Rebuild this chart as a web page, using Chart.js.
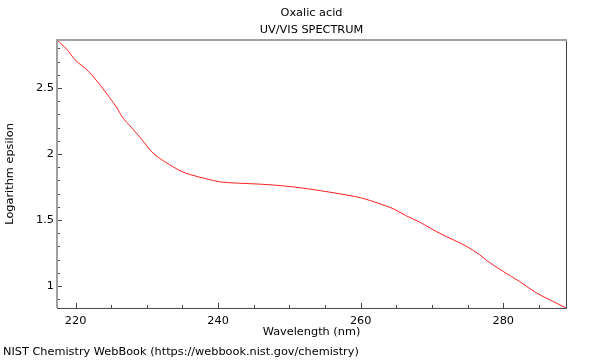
<!DOCTYPE html>
<html>
<head>
<meta charset="utf-8">
<script src="https://cdn.jsdelivr.net/npm/chart.js@4/dist/chart.umd.min.js"></script>
<style>
  html, body { margin: 0; padding: 0; background: #fff; }
  #wrap { width: 600px; height: 360px; }
</style>
</head>
<body>
<div id="wrap"><canvas id="spec"></canvas></div>
<script>
// ---- data ----
const wavelengths = [217.4, 218.8, 219.9, 221.8, 223.4, 224.8, 225.8, 226.5, 227.9, 229.3,
                     230.7, 232.5, 235.1, 236.1, 238.4, 240.3, 243.0, 245.9, 250.1, 254.3,
                     258.5, 260.0, 262.7, 264.6, 266.4, 268.3, 270.6, 273.0, 274.9, 276.7,
                     277.7, 280.0, 282.3, 284.7, 287.0, 288.8];
const logEpsilon  = [2.864, 2.791, 2.715, 2.627, 2.525, 2.425, 2.349, 2.285, 2.197, 2.109,
                     2.015, 1.942, 1.862, 1.843, 1.811, 1.788, 1.778, 1.771, 1.753, 1.722,
                     1.684, 1.668, 1.622, 1.584, 1.531, 1.483, 1.412, 1.349, 1.298, 1.235,
                     1.192, 1.109, 1.033, 0.945, 0.882, 0.833];
const xTickLabels = [220, 240, 260, 280];
const yTickLabels = [1, 1.5, 2, 2.5];

const FONT = { family: "'DejaVu Sans', sans-serif", size: 11.3, lineHeight: 1.0 };
const INK  = "#000";
const AXIS = "#444";
const FRAME_LIGHT = "#a0a0a0";

const near = (a, b) => Math.abs(a - b) < 1e-6;

// ticks drawn inward + frame, like the NIST plot
const frameTicks = {
  id: "frameTicks",
  afterDatasetsDraw(chart) {
    const { ctx, chartArea: a, scales: { x, y } } = chart;
    ctx.save();
    ctx.strokeStyle = AXIS;
    ctx.lineWidth = 1;
    ctx.beginPath();
    x.ticks.forEach(t => {
      const v = t.value;
      if (!near(v / 5, Math.round(v / 5))) return;
      const px = Math.round(x.getPixelForValue(v)) + 0.5;
      const len = xTickLabels.some(l => near(l, v)) ? 5 : 3;
      ctx.moveTo(px, a.bottom);
      ctx.lineTo(px, a.bottom - len);
    });
    y.ticks.forEach(t => {
      const v = t.value;
      if (!near(v * 10, Math.round(v * 10))) return;
      const py = Math.round(y.getPixelForValue(v)) + 0.5;
      const len = yTickLabels.some(l => near(l, v)) ? 5 : 3;
      ctx.moveTo(a.left, py);
      ctx.lineTo(a.left + len, py);
    });
    ctx.stroke();

    // bottom + right edges (dark)
    ctx.beginPath();
    ctx.moveTo(a.left, a.bottom + 0.5);
    ctx.lineTo(a.right + 0.5, a.bottom + 0.5);
    ctx.lineTo(a.right + 0.5, a.top);
    ctx.stroke();

    // top + left edges (light gray)
    ctx.strokeStyle = FRAME_LIGHT;
    ctx.lineWidth = 2;
    ctx.beginPath();
    ctx.moveTo(a.left, a.bottom);
    ctx.lineTo(a.left, a.top);
    ctx.lineTo(a.right + 1, a.top);
    ctx.stroke();
    ctx.restore();
  }
};

new Chart(document.getElementById("spec"), {
  type: "line",
  data: {
    datasets: [{
      data: wavelengths.map((w, i) => ({ x: w, y: logEpsilon[i] })),
      borderColor: "#ff2020",
      borderWidth: 1,
      pointRadius: 0,
      cubicInterpolationMode: "monotone",
      fill: false
    }]
  },
  options: {
    responsive: true,
    maintainAspectRatio: false,
    animation: false,
    events: [],
    layout: { padding: { left: 3, right: 34, top: 0, bottom: 0 } },
    plugins: {
      legend: { display: false },
      tooltip: { enabled: false },
      title: {
        display: true,
        text: ["Oxalic acid", "UV/VIS SPECTRUM"],
        color: INK,
        font: { ...FONT, weight: "normal", lineHeight: 1.5 },
        padding: { top: 5, bottom: 1 },
        fullSize: false
      },
      subtitle: {
        display: true,
        text: "NIST Chemistry WebBook (https://webbook.nist.gov/chemistry)",
        position: "bottom",
        align: "start",
        color: INK,
        font: { ...FONT, lineHeight: 1.2 },
        padding: { top: 8, bottom: 1 }
      }
    },
    scales: {
      x: {
        type: "linear",
        min: 217.4,
        max: 288.8,
        grid: { display: false, drawTicks: false },
        border: { display: false },
        ticks: {
          stepSize: 5,
          includeBounds: false,
          autoSkip: false,
          maxRotation: 0,
          padding: 7,
          color: INK,
          font: FONT,
          callback: v => xTickLabels.some(l => near(l, v)) ? String(Math.round(v)) : ""
        },
        title: { display: true, text: "Wavelength (nm)", color: INK, font: FONT, padding: { top: 0, bottom: 0 } },
        afterFit: s => { s.height = 29.5; }
      },
      y: {
        type: "linear",
        min: 0.833,
        max: 2.864,
        grid: { display: false, drawTicks: false },
        border: { display: false },
        ticks: {
          stepSize: 0.1,
          includeBounds: false,
          autoSkip: false,
          padding: 3,
          color: INK,
          font: FONT,
          callback: v => yTickLabels.some(l => near(l, v)) ? String(Number(v.toFixed(1))) : ""
        },
        title: { display: true, text: "Logarithm epsilon", color: INK, font: { ...FONT, lineHeight: 1.2 }, padding: { top: 0, bottom: 0 } },
        afterFit: s => { s.width = 54; }
      }
    }
  },
  plugins: [frameTicks]
});
</script>
</body>
</html>
